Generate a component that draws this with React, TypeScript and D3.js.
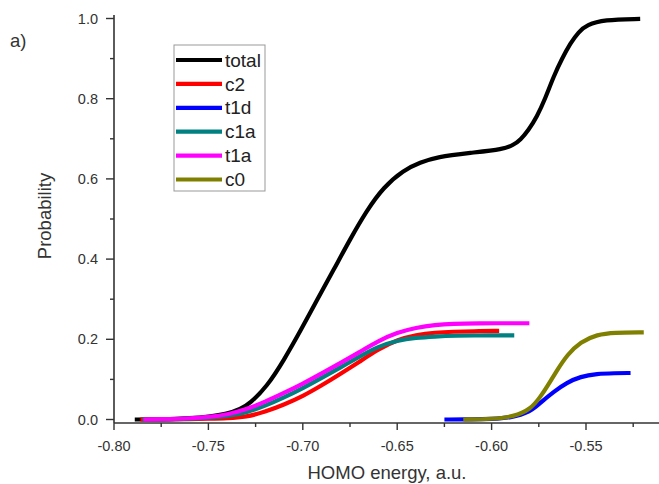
import React from "react";
import * as d3 from "d3";

// Cumulative probability vs HOMO energy (a.u.), one array per configuration.
const total: [number, number][] = [
  [-0.789, 0.0], [-0.78, 0.0], [-0.77, 0.001], [-0.76, 0.003], [-0.75, 0.007],
  [-0.74, 0.014], [-0.733, 0.026], [-0.728, 0.04], [-0.719, 0.082], [-0.71, 0.148],
  [-0.701, 0.223], [-0.6925, 0.298], [-0.6837, 0.373], [-0.6749, 0.45], [-0.666, 0.522],
  [-0.6573, 0.579], [-0.6467, 0.622], [-0.6378, 0.641], [-0.6289, 0.655], [-0.6112, 0.665],
  [-0.5936, 0.674], [-0.5884, 0.685], [-0.5848, 0.697], [-0.5804, 0.722], [-0.576, 0.755],
  [-0.5716, 0.8], [-0.5672, 0.855], [-0.5627, 0.9], [-0.5583, 0.938], [-0.5539, 0.967],
  [-0.5495, 0.984], [-0.5407, 0.997], [-0.5213, 0.999],
];

const c2: [number, number][] = [
  [-0.786, 0.0], [-0.77, 0.0], [-0.76, 0.001], [-0.75, 0.002], [-0.74, 0.003],
  [-0.73, 0.006], [-0.72, 0.019], [-0.71, 0.037], [-0.7, 0.058], [-0.69, 0.085],
  [-0.68, 0.114], [-0.67, 0.144], [-0.66, 0.175], [-0.65, 0.199], [-0.64, 0.211],
  [-0.63, 0.217], [-0.62, 0.219], [-0.61, 0.22], [-0.596, 0.221],
];

const t1d: [number, number][] = [
  [-0.625, 0.0], [-0.61, 0.0], [-0.6, 0.001], [-0.59, 0.004], [-0.5794, 0.019],
  [-0.5741, 0.042], [-0.5672, 0.069], [-0.5601, 0.092], [-0.553, 0.107], [-0.5442, 0.114],
  [-0.535, 0.1155], [-0.5264, 0.116],
];

const c1a: [number, number][] = [
  [-0.785, 0.0], [-0.77, 0.0], [-0.76, 0.002], [-0.75, 0.004], [-0.74, 0.008],
  [-0.73, 0.017], [-0.72, 0.034], [-0.71, 0.055], [-0.7, 0.078], [-0.69, 0.104],
  [-0.68, 0.13], [-0.67, 0.157], [-0.66, 0.182], [-0.65, 0.197], [-0.64, 0.204],
  [-0.63, 0.207], [-0.62, 0.209], [-0.6, 0.21], [-0.588, 0.21],
];

const t1a: [number, number][] = [
  [-0.7845, 0.0], [-0.77, 0.001], [-0.76, 0.003], [-0.75, 0.006], [-0.74, 0.012],
  [-0.73, 0.025], [-0.72, 0.044], [-0.71, 0.066], [-0.7, 0.089], [-0.69, 0.115],
  [-0.68, 0.141], [-0.67, 0.168], [-0.66, 0.196], [-0.65, 0.217], [-0.64, 0.229],
  [-0.63, 0.236], [-0.62, 0.239], [-0.61, 0.24], [-0.58, 0.24],
];

const c0: [number, number][] = [
  [-0.615, 0.0], [-0.6, 0.001], [-0.5883, 0.007], [-0.5794, 0.025], [-0.5741, 0.057],
  [-0.5706, 0.082], [-0.5653, 0.123], [-0.56, 0.161], [-0.5529, 0.194], [-0.544, 0.212],
  [-0.5353, 0.217], [-0.5194, 0.2175],
];

const seriesNames = ["total", "c2", "t1d", "c1a", "t1a", "c0"];
const seriesColors = ["#000000", "#ff0000", "#0000ff", "#008080", "#ff00ff", "#808000"];
const seriesData = [total, c2, t1d, c1a, t1a, c0];

const xTicks = [-0.8, -0.75, -0.7, -0.65, -0.6, -0.55];
const xMinorTicks = [-0.775, -0.725, -0.675, -0.625, -0.575, -0.525];
const yTicks = [0, 0.2, 0.4, 0.6, 0.8, 1.0];
const yMinorTicks = [0.1, 0.3, 0.5, 0.7, 0.9];

const W = 659;
const H = 484;
const FONT = "Arial, 'Liberation Sans', Helvetica, sans-serif";
const AXIS = "#333";

export default function App() {
  const x = d3.scaleLinear().domain([-0.8, -0.55]).range([114, 586]);
  const y = d3.scaleLinear().domain([0, 1]).range([419.5, 18.5]);
  const axisY = 423;
  const axisTop = 15;

  const line = d3
    .line<[number, number]>()
    .x((d) => x(d[0]))
    .y((d) => y(d[1]))
    .curve(d3.curveBasis);

  const legX = 174;
  const legY = 45;
  const rowH = 23.9;

  return (
    <svg
      width={W}
      height={H}
      style={{ position: "absolute", left: 0, top: 0, background: "#fff" }}
      fontFamily={FONT}
    >
      <rect x={0} y={0} width={W} height={H} fill="#fff" />

      {/* curves */}
      {seriesData.map((d, i) => (
        <path
          key={seriesNames[i]}
          d={line(d) || ""}
          fill="none"
          stroke={seriesColors[i]}
          strokeWidth={4.2}
          strokeLinecap="butt"
          strokeLinejoin="round"
        />
      ))}

      {/* axes */}
      <line x1={114} x2={114} y1={axisTop} y2={axisY} stroke={AXIS} strokeWidth={1.6} />
      <line x1={114} x2={W} y1={axisY} y2={axisY} stroke={AXIS} strokeWidth={1.6} />

      {yTicks.map((t) => (
        <g key={"y" + t}>
          <line x1={106} x2={114} y1={y(t)} y2={y(t)} stroke={AXIS} strokeWidth={1.4} />
          <text
            x={98}
            y={y(t)}
            dy="0.35em"
            textAnchor="end"
            fontSize={14.5}
            fill={AXIS}
          >
            {t.toFixed(1)}
          </text>
        </g>
      ))}
      {yMinorTicks.map((t) => (
        <line key={"ym" + t} x1={110} x2={114} y1={y(t)} y2={y(t)} stroke={AXIS} strokeWidth={1.4} />
      ))}

      {xTicks.map((t) => (
        <g key={"x" + t}>
          <line x1={x(t)} x2={x(t)} y1={axisY} y2={axisY + 7} stroke={AXIS} strokeWidth={1.4} />
          <text x={x(t)} y={450.5} textAnchor="middle" fontSize={14.5} fill={AXIS}>
            {t.toFixed(2)}
          </text>
        </g>
      ))}
      {xMinorTicks.map((t) => (
        <line key={"xm" + t} x1={x(t)} x2={x(t)} y1={axisY} y2={axisY + 4} stroke={AXIS} strokeWidth={1.4} />
      ))}

      {/* axis titles */}
      <text x={387} y={479} textAnchor="middle" fontSize={18.5} fill={AXIS}>
        HOMO energy, a.u.
      </text>
      <text
        transform={`translate(51, 216) rotate(-90)`}
        textAnchor="middle"
        fontSize={18.5}
        fill={AXIS}
      >
        Probability
      </text>
      <text x={10} y={47} fontSize={18.5} fill={AXIS}>
        a)
      </text>

      {/* legend */}
      <rect
        x={legX}
        y={legY}
        width={91}
        height={146}
        fill="#fff"
        stroke="#999"
        strokeWidth={1}
      />
      {seriesNames.map((name, i) => {
        const cy = 60 + i * rowH;
        return (
          <g key={"leg" + name}>
            <line
              x1={176}
              x2={222}
              y1={cy}
              y2={cy}
              stroke={seriesColors[i]}
              strokeWidth={4.2}
            />
            <text x={225} y={cy} dy="0.35em" fontSize={19} fill="#222">
              {name}
            </text>
          </g>
        );
      })}
    </svg>
  );
}
